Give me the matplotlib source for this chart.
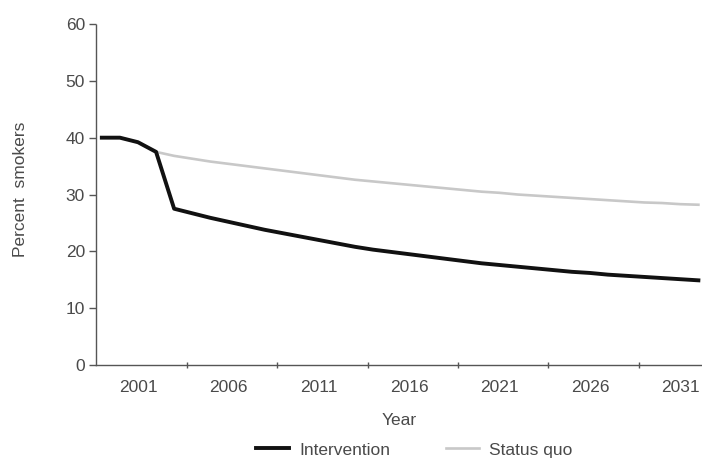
import matplotlib
matplotlib.use("Agg")
import matplotlib.pyplot as plt
import numpy as np

plt.rcParams['font.family'] = ['Liberation Sans', 'DejaVu Sans']

years = list(range(1999, 2033))
intervention = [40.0, 40.0, 39.2, 37.5, 27.5, 26.7, 25.9, 25.2, 24.5, 23.8,
                23.2, 22.6, 22.0, 21.4, 20.8, 20.3, 19.9, 19.5, 19.1, 18.7,
                18.3, 17.9, 17.6, 17.3, 17.0, 16.7, 16.4, 16.2, 15.9, 15.7,
                15.5, 15.3, 15.1, 14.9]
status_quo = [40.0, 40.0, 39.2, 37.5, 36.8, 36.3, 35.8, 35.4, 35.0, 34.6,
              34.2, 33.8, 33.4, 33.0, 32.6, 32.3, 32.0, 31.7, 31.4, 31.1,
              30.8, 30.5, 30.3, 30.0, 29.8, 29.6, 29.4, 29.2, 29.0, 28.8,
              28.6, 28.5, 28.3, 28.2]
xtick_labels = [2001, 2006, 2011, 2016, 2021, 2026, 2031]
yticks = [0, 10, 20, 30, 40, 50, 60]

txt = '#4a4a4a'
fs = 12.5
fig = plt.figure(figsize=(7.02, 4.58), dpi=100)
ax = fig.add_axes([0.1368, 0.203, 0.8632, 0.7446])

ax.plot(years, status_quo, color='#c8c8c8', lw=1.9, label='Status quo', zorder=2)
ax.plot(years, intervention, color='#111111', lw=2.8, label='Intervention', zorder=3)

ax.set_xlim(1998.68, 2032.2)
ax.set_ylim(0, 60)
ax.set_yticks(yticks)
ax.set_xticks(xtick_labels)
ax.set_xticks([2003.7 + 5 * k for k in range(6)], minor=True)
ax.tick_params(axis='x', which='major', length=0, pad=11, labelsize=fs, labelcolor=txt)
ax.tick_params(axis='x', which='minor', length=5, direction='inout', color='#555555', width=1)
ax.tick_params(axis='y', which='major', length=5, direction='out', color='#555555', width=1,
               labelsize=fs, labelcolor=txt, pad=3)

for s in ['top', 'right']:
    ax.spines[s].set_visible(False)
for s in ['left', 'bottom']:
    ax.spines[s].set_color('#555555')
    ax.spines[s].set_linewidth(1.0)
    ax.spines[s].set_linestyle((0, (1, 1)))

ax.set_xlabel('Year', fontsize=fs, color=txt, labelpad=13)
ax.set_ylabel('Percent  smokers', fontsize=fs, color=txt)
ax.yaxis.set_label_coords(-0.112, 0.515)

handles, labels = ax.get_legend_handles_labels()
leg = fig.legend(handles[::-1], labels[::-1], loc='center', bbox_to_anchor=(0.59, 0.0175),
                 ncol=2, frameon=False, fontsize=fs, labelcolor=txt,
                 handlelength=1.9, columnspacing=3.2, handletextpad=0.6)

fig.savefig('out.png', dpi=100)
